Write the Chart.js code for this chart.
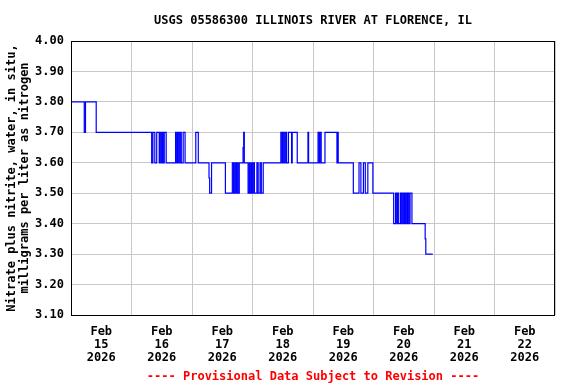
<!DOCTYPE html>
<html>
<head>
<meta charset="utf-8">
<script src="https://cdn.jsdelivr.net/npm/chart.js@4/dist/chart.umd.min.js"></script>
<style>
  html, body { margin: 0; padding: 0; background: #fff; }
  #wrap { width: 576px; height: 384px; }
</style>
</head>
<body>
<div id="wrap"><canvas id="chart" width="576" height="384"></canvas></div>
<script>
// Hours since Feb 15 2026 00:00 where the reading changes, and the reading from then on
const hours = [
  0, 5.25, 5.75, 10,
  32, 32.5, 33.25, 34, 35, 35.25, 35.75, 36.25, 36.5, 37, 37.75,
  41.5, 41.75, 42.25, 42.75, 43.25, 43.75, 44.5, 45.25, 49.5, 50.5,
  54.75, 55, 55.75, 61.25, 64, 64.5, 65, 65.5, 65.75, 66.25, 66.75,
  68.25, 68.5, 68.75, 70.25, 70.75, 71, 71.5, 71.75, 72.25, 72.75,
  73.75, 74.25, 75, 75.5, 76.25,
  83.25, 83.75, 84, 84.5, 85, 85.5, 86.25, 87.5, 87.75, 89.75,
  94, 94.25, 98, 98.5, 98.75, 99.25, 100.75, 105.5, 105.75, 106,
  112, 114.25, 115, 116, 116.75, 117.75, 119.75,
  128, 128.75, 129.25, 129.5, 130, 130.75, 131.25, 131.75, 132.25, 132.75,
  133.25, 133.5, 134, 134.5, 135.25, 140.5, 140.75, 143.5
];
const nitrate = [
  3.80, 3.70, 3.80, 3.70,
  3.60, 3.70, 3.60, 3.70, 3.60, 3.70, 3.60, 3.70, 3.60, 3.70, 3.60,
  3.70, 3.60, 3.70, 3.60, 3.70, 3.60, 3.70, 3.60, 3.70, 3.60,
  3.55, 3.50, 3.60, 3.50, 3.60, 3.50, 3.60, 3.50, 3.60, 3.50, 3.60,
  3.65, 3.70, 3.60, 3.50, 3.60, 3.50, 3.60, 3.50, 3.60, 3.50,
  3.60, 3.50, 3.60, 3.50, 3.60,
  3.70, 3.60, 3.70, 3.60, 3.70, 3.60, 3.70, 3.60, 3.70, 3.60,
  3.70, 3.60, 3.70, 3.60, 3.70, 3.60, 3.70, 3.60, 3.70, 3.60,
  3.50, 3.60, 3.50, 3.60, 3.50, 3.60, 3.50,
  3.40, 3.50, 3.40, 3.50, 3.40, 3.50, 3.40, 3.50, 3.40, 3.50,
  3.40, 3.50, 3.40, 3.50, 3.40, 3.35, 3.30, 3.30
];
const dayLabels = ['15', '16', '17', '18', '19', '20', '21', '22'];
const monthLabel = 'Feb';
const yearLabel = '2026';

const FONT = 'DejaVu Sans Mono';
const GRID = '#c8c8c8';

// black frame round the plot area
const frame = {
  id: 'frame',
  afterDraw(chart) {
    const { ctx, chartArea: a } = chart;
    ctx.save();
    ctx.strokeStyle = '#000';
    ctx.lineWidth = 1;
    ctx.strokeRect(Math.round(a.left) + 0.5, Math.round(a.top) + 0.5,
                   Math.round(a.right - a.left) - 1, Math.round(a.bottom - a.top));
    ctx.restore();
  }
};

// center title and footer over the plot area instead of the whole canvas
const centerTitles = {
  id: 'centerTitles',
  afterLayout(chart) {
    const a = chart.chartArea;
    chart.boxes.forEach(b => {
      if (b.options && b.options.text && (b.position === 'top' || b.position === 'bottom') && !b.axis) {
        b.left = a.left;
        b.right = a.right;
      }
    });
  }
};

new Chart(document.getElementById('chart'), {
  type: 'line',
  data: {
    datasets: [{
      data: hours.map((h, i) => ({ x: h, y: nitrate[i] })),
      borderColor: '#0000ff',
      borderWidth: 1.2,
      pointRadius: 0,
      stepped: true,
      fill: false
    }]
  },
  options: {
    responsive: false,
    animation: false,
    layout: { padding: { left: 0, right: 21, top: 0, bottom: 0 } },
    plugins: {
      legend: { display: false },
      tooltip: { enabled: false },
      title: {
        display: true,
        text: 'USGS 05586300 ILLINOIS RIVER AT FLORENCE, IL',
        color: '#000',
        font: { family: FONT, size: 12, weight: 'bold', lineHeight: 1.2 },
        padding: { top: 14, bottom: 12.6 }
      },
      subtitle: {
        display: true,
        position: 'bottom',
        text: '---- Provisional Data Subject to Revision ----',
        color: '#ff0000',
        font: { family: FONT, size: 12, weight: 'bold', lineHeight: 1.2 },
        padding: { top: 0, bottom: 0 }
      }
    },
    scales: {
      x: {
        type: 'linear',
        min: 0,
        max: 192,
        afterFit(scale) { scale.height = 54.6; },
        grid: {
          drawTicks: false,
          color: (c) => (c.tick && c.tick.value % 24 === 0) ? GRID : 'rgba(0,0,0,0)'
        },
        border: { display: false },
        ticks: {
          stepSize: 12,
          autoSkip: false,
          maxRotation: 0,
          padding: 10,
          color: '#000',
          font: { family: FONT, size: 12, weight: 'bold', lineHeight: 1.1 },
          callback: (v) => {
            if (v % 24 !== 12) return '';
            return [monthLabel, dayLabels[Math.floor(v / 24)], yearLabel];
          }
        }
      },
      y: {
        min: 3.1,
        max: 4.0,
        afterFit(scale) { scale.width = 71; },
        grid: { drawTicks: false, color: GRID },
        border: { display: false },
        ticks: {
          stepSize: 0.1,
          padding: 7,
          color: '#000',
          font: { family: FONT, size: 12, weight: 'bold' },
          callback: (v) => Number(v).toFixed(2)
        },
        title: {
          display: true,
          text: ['Nitrate plus nitrite, water, in situ,', 'milligrams per liter as nitrogen'],
          color: '#000',
          font: { family: FONT, size: 12, weight: 'bold', lineHeight: 1.1 },
          padding: { top: 5, bottom: 0 }
        }
      }
    }
  },
  plugins: [frame, centerTitles]
});
</script>
</body>
</html>
